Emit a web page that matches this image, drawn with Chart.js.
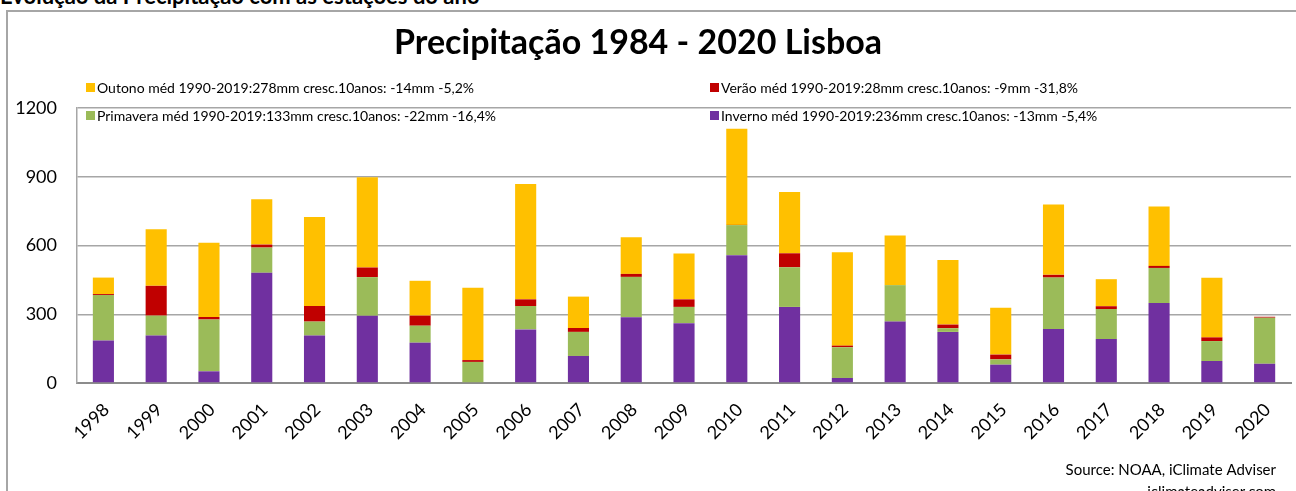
<!DOCTYPE html>
<html>
<head>
<meta charset="utf-8">
<script src="https://cdn.jsdelivr.net/npm/chart.js@4/dist/chart.umd.min.js"></script>
<style>
  body { margin: 0; background: #fff; overflow: hidden; }
  #wrap { position: relative; width: 1296px; height: 491px; }
  #top { position: absolute; left: 0; top: -18px; font: bold 22px Lato, sans-serif; color: #000; white-space: nowrap; }
  #frame { position: absolute; left: 6px; top: 10px; width: 1400px; height: 600px; border: 2px solid #a6a6a6; box-sizing: border-box; }
  canvas { position: absolute; left: 0; top: 0; }
</style>
</head>
<body>
<div id="wrap">
  <div id="top">Evolução da Precipitação com as estações do ano</div>
  <div id="frame"></div>
  <canvas id="chart" width="1296" height="491"></canvas>
</div>
<script>
// years on the x axis
var years = ["1998","1999","2000","2001","2002","2003","2004","2005","2006","2007","2008","2009",
             "2010","2011","2012","2013","2014","2015","2016","2017","2018","2019","2020"];

// seasonal rainfall (mm)
var inverno   = [186,207, 51,481,207,293,176,  3,234,118,287,261,558,332, 22,268,223, 80,236,192,349, 96, 84];
var primavera = [198, 87,226,110, 61,169, 74, 89,102,105,176, 71,131,173,134,159, 16, 23,224,131,153, 87,201];
var verao     = [  4,130, 11, 13, 68, 42, 44,  8, 29, 17, 13, 33,  1, 61,  7,  0, 16, 21, 12, 12,  9, 16,  4];
var outono    = [ 72,247,324,198,388,394,152,316,503,137,160,200,420,267,408,217,282,204,307,118,259,260,  0];

var yTicks = [0, 300, 600, 900, 1200];

var chartTitle = "Precipitação 1984 - 2020 Lisboa";
var labInverno   = "Inverno méd 1990-2019:236mm cresc.10anos: -13mm -5,4%";
var labPrimavera = "Primavera méd 1990-2019:133mm cresc.10anos: -22mm -16,4%";
var labVerao     = "Verão méd 1990-2019:28mm cresc.10anos: -9mm -31,8%";
var labOutono    = "Outono méd 1990-2019:278mm cresc.10anos: -14mm -5,2%";
var sourceText = ["Source: NOAA, iClimate Adviser", "iclimateadviser.com"];

var FONT = "Lato, sans-serif";

// title, legend (2 x 2 grid) and source note drawn on the canvas
var extras = {
  id: 'extras',
  afterDraw: function(chart) {
    var ctx = chart.ctx;
    ctx.save();
    ctx.fillStyle = '#000';
    ctx.font = 'bold 34px ' + FONT;
    ctx.textAlign = 'center';
    ctx.textBaseline = 'alphabetic';
    ctx.fillText(chartTitle, 638, 54);

    // legend order as in the picture: Outono, Verão / Primavera, Inverno
    var order = [3, 2, 1, 0];
    var pos = [[86, 88], [710, 88], [86, 116], [710, 116]];
    ctx.font = '14px ' + FONT;
    ctx.textAlign = 'left';
    ctx.textBaseline = 'middle';
    order.forEach(function(di, k) {
      var ds = chart.data.datasets[di];
      ctx.fillStyle = ds.backgroundColor;
      ctx.fillRect(pos[k][0], pos[k][1] - 5, 9, 9);
      ctx.fillStyle = '#000';
      ctx.fillText(ds.label, pos[k][0] + 11, pos[k][1]);
    });

    ctx.font = '15px ' + FONT;
    ctx.textAlign = 'right';
    ctx.fillText(sourceText[0], 1276, 470);
    ctx.fillText(sourceText[1], 1276, 492);
    ctx.restore();
  }
};

var ctx = document.getElementById('chart').getContext('2d');
var chart = new Chart(ctx, {
  type: 'bar',
  data: {
    labels: years,
    datasets: [
      { label: labInverno,   data: inverno,   backgroundColor: "#7030A0" },
      { label: labPrimavera, data: primavera, backgroundColor: "#9BBB59" },
      { label: labVerao,     data: verao,     backgroundColor: "#C00000" },
      { label: labOutono,    data: outono,    backgroundColor: "#FFC000" }
    ]
  },
  options: {
    responsive: false,
    animation: false,
    layout: { padding: { top: 108, right: 4, left: 0, bottom: 0 } },
    datasets: { bar: { categoryPercentage: 1, barPercentage: 0.4 } },
    plugins: {
      legend: { display: false },
      tooltip: { enabled: false }
    },
    scales: {
      x: {
        stacked: true,
        grid: { display: false, drawTicks: false },
        border: { color: '#8c8c8c', width: 2 },
        ticks: {
          color: '#000', font: { family: FONT, size: 18 },
          minRotation: 45, maxRotation: 45, padding: 16, labelOffset: 3
        },
        afterFit: function(scale) { scale.height = 108; }
      },
      y: {
        stacked: true,
        min: 0, max: 1200,
        afterBuildTicks: function(scale) {
          scale.ticks = yTicks.map(function(v) { return { value: v }; });
        },
        grid: { color: '#a6a6a6', lineWidth: 1.5, drawTicks: false },
        border: { color: '#a6a6a6', width: 1.5 },
        ticks: {
          color: '#000', font: { family: FONT, size: 18 }, padding: 20,
          callback: function(v) { return String(v); }
        },
        afterFit: function(scale) { scale.width = 77; }
      }
    }
  },
  plugins: [extras]
});
</script>
</body>
</html>
